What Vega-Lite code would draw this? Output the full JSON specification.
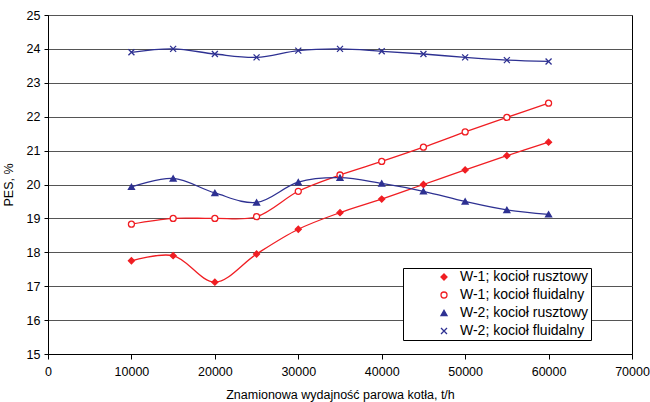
{
  "$schema": "https://vega.github.io/schema/vega-lite/v6.json",
  "width": 584,
  "height": 339,
  "autosize": {"type": "none"},
  "padding": {"left": 48, "top": 15, "right": 18, "bottom": 48},
  "background": "white",
  "config": {
    "font": "Liberation Sans",
    "view": {"stroke": "black", "strokeWidth": 1},
    "axis": {
      "labelFont": "Liberation Sans",
      "labelFontSize": 12.5,
      "labelColor": "black",
      "titleFont": "Liberation Sans",
      "titleFontSize": 12.5,
      "titleFontWeight": "normal",
      "titleColor": "black",
      "domainColor": "black",
      "tickColor": "black"
    }
  },
  "data": {
    "values": [
      {"s": "W-1; kocioł rusztowy", "x": 10000, "y": 17.75},
      {"s": "W-1; kocioł rusztowy", "x": 15000, "y": 17.9},
      {"s": "W-1; kocioł rusztowy", "x": 20000, "y": 17.12},
      {"s": "W-1; kocioł rusztowy", "x": 25000, "y": 17.95},
      {"s": "W-1; kocioł rusztowy", "x": 30000, "y": 18.68},
      {"s": "W-1; kocioł rusztowy", "x": 35000, "y": 19.17},
      {"s": "W-1; kocioł rusztowy", "x": 40000, "y": 19.57},
      {"s": "W-1; kocioł rusztowy", "x": 45000, "y": 20.0},
      {"s": "W-1; kocioł rusztowy", "x": 50000, "y": 20.43},
      {"s": "W-1; kocioł rusztowy", "x": 55000, "y": 20.85},
      {"s": "W-1; kocioł rusztowy", "x": 60000, "y": 21.25},
      {"s": "W-1; kocioł fluidalny", "x": 10000, "y": 18.83},
      {"s": "W-1; kocioł fluidalny", "x": 15000, "y": 19.0},
      {"s": "W-1; kocioł fluidalny", "x": 20000, "y": 19.0},
      {"s": "W-1; kocioł fluidalny", "x": 25000, "y": 19.05},
      {"s": "W-1; kocioł fluidalny", "x": 30000, "y": 19.8},
      {"s": "W-1; kocioł fluidalny", "x": 35000, "y": 20.28},
      {"s": "W-1; kocioł fluidalny", "x": 40000, "y": 20.68},
      {"s": "W-1; kocioł fluidalny", "x": 45000, "y": 21.1},
      {"s": "W-1; kocioł fluidalny", "x": 50000, "y": 21.55},
      {"s": "W-1; kocioł fluidalny", "x": 55000, "y": 21.98},
      {"s": "W-1; kocioł fluidalny", "x": 60000, "y": 22.4},
      {"s": "W-2; kocioł rusztowy", "x": 10000, "y": 19.93},
      {"s": "W-2; kocioł rusztowy", "x": 15000, "y": 20.18},
      {"s": "W-2; kocioł rusztowy", "x": 20000, "y": 19.75},
      {"s": "W-2; kocioł rusztowy", "x": 25000, "y": 19.47},
      {"s": "W-2; kocioł rusztowy", "x": 30000, "y": 20.07},
      {"s": "W-2; kocioł rusztowy", "x": 35000, "y": 20.2},
      {"s": "W-2; kocioł rusztowy", "x": 40000, "y": 20.03},
      {"s": "W-2; kocioł rusztowy", "x": 45000, "y": 19.8},
      {"s": "W-2; kocioł rusztowy", "x": 50000, "y": 19.5},
      {"s": "W-2; kocioł rusztowy", "x": 55000, "y": 19.25},
      {"s": "W-2; kocioł rusztowy", "x": 60000, "y": 19.12},
      {"s": "W-2; kocioł fluidalny", "x": 10000, "y": 23.9},
      {"s": "W-2; kocioł fluidalny", "x": 15000, "y": 24.0},
      {"s": "W-2; kocioł fluidalny", "x": 20000, "y": 23.85},
      {"s": "W-2; kocioł fluidalny", "x": 25000, "y": 23.75},
      {"s": "W-2; kocioł fluidalny", "x": 30000, "y": 23.95},
      {"s": "W-2; kocioł fluidalny", "x": 35000, "y": 24.0},
      {"s": "W-2; kocioł fluidalny", "x": 40000, "y": 23.93},
      {"s": "W-2; kocioł fluidalny", "x": 45000, "y": 23.85},
      {"s": "W-2; kocioł fluidalny", "x": 50000, "y": 23.75},
      {"s": "W-2; kocioł fluidalny", "x": 55000, "y": 23.67},
      {"s": "W-2; kocioł fluidalny", "x": 60000, "y": 23.63}
    ]
  },
  "encoding": {
    "x": {
      "field": "x",
      "type": "quantitative",
      "scale": {"domain": [0, 70000], "nice": false},
      "axis": {
        "title": "Znamionowa wydajność parowa kotła, t/h",
        "values": [0, 10000, 20000, 30000, 40000, 50000, 60000, 70000],
        "format": "d",
        "grid": false,
        "tickSize": 5,
        "labelPadding": 6,
        "labelFlush": false,
        "labelOverlap": false,
        "titlePadding": 11
      }
    },
    "y": {
      "field": "y",
      "type": "quantitative",
      "scale": {"domain": [15, 25], "nice": false, "zero": false},
      "axis": {
        "title": "PES, %",
        "values": [15, 16, 17, 18, 19, 20, 21, 22, 23, 24, 25],
        "grid": true,
        "gridColor": "#555555",
        "gridWidth": 1,
        "tickSize": 4,
        "labelPadding": 4,
        "titlePadding": 11
      }
    },
    "stroke": {
      "field": "s",
      "type": "nominal",
      "title": null,
      "scale": {
        "domain": ["W-1; kocioł rusztowy", "W-1; kocioł fluidalny", "W-2; kocioł rusztowy", "W-2; kocioł fluidalny"],
        "range": ["#f01e23", "#f01e23", "#2e3192", "#2e3192"]
      },
      "legend": {
        "orient": "none",
        "legendX": 355,
        "legendY": 253,
        "strokeColor": "black",
        "fillColor": "white",
        "padding": 2,
        "symbolOffset": 32,
        "labelOffset": 9,
        "labelFontSize": 14,
        "labelFont": "Liberation Sans",
        "labelColor": "black",
        "rowPadding": 4,
        "symbolSize": 36,
        "symbolStrokeWidth": 1.3
      }
    }
  },
  "layer": [
    {
      "mark": {"type": "line", "interpolate": "catmull-rom", "strokeWidth": 1.3}
    },
    {
      "mark": {"type": "point", "opacity": 1, "strokeWidth": 1.3, "size": 36},
      "encoding": {
        "fill": {
          "field": "s",
          "type": "nominal",
          "title": null,
          "scale": {
            "domain": ["W-1; kocioł rusztowy", "W-1; kocioł fluidalny", "W-2; kocioł rusztowy", "W-2; kocioł fluidalny"],
            "range": ["#f01e23", "white", "#2e3192", "#2e3192"]
          }
        },
        "shape": {
          "field": "s",
          "type": "nominal",
          "title": null,
          "scale": {
            "domain": ["W-1; kocioł rusztowy", "W-1; kocioł fluidalny", "W-2; kocioł rusztowy", "W-2; kocioł fluidalny"],
            "range": ["diamond", "circle", "triangle-up", "M-1,-1L1,1M-1,1L1,-1"]
          }
        }
      }
    }
  ]
}
